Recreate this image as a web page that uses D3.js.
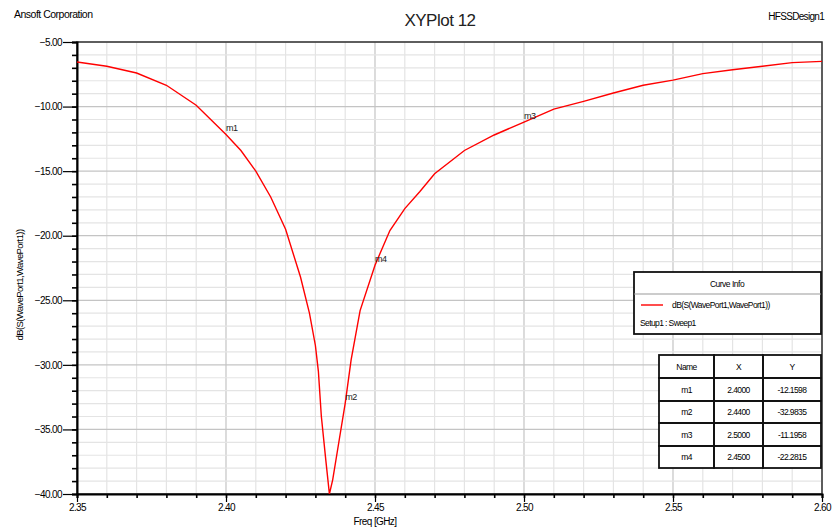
<!DOCTYPE html>
<html><head><meta charset="utf-8">
<script src="https://cdn.jsdelivr.net/npm/d3@7"></script>
<style>
body{margin:0;background:#fff;}
svg{display:block;font-family:"Liberation Sans",Arial,sans-serif;}
</style></head>
<body><svg id="c" width="833" height="531"></svg>
<script>
// ---- data ----
const freq = [2.35,2.36,2.37,2.38,2.39,2.40,2.405,2.41,2.415,2.42,2.425,2.428,2.430,2.431,2.432,2.4335,2.4347,2.4358,2.438,2.44,2.442,2.445,2.45,2.455,2.46,2.465,2.47,2.48,2.49,2.50,2.51,2.52,2.53,2.54,2.55,2.56,2.57,2.58,2.59,2.60];
const s11 = [-6.55,-6.88,-7.40,-8.35,-9.90,-12.16,-13.4,-15.0,-17.0,-19.5,-23.2,-26.0,-28.5,-30.5,-34.0,-37.4,-40.0,-38.9,-35.8,-32.98,-29.6,-25.8,-22.28,-19.6,-17.9,-16.6,-15.2,-13.4,-12.2,-11.2,-10.2,-9.6,-8.95,-8.35,-7.95,-7.45,-7.15,-6.88,-6.6,-6.5];
const markerNames = ["m1","m2","m3","m4"];
const markerX = [2.4000,2.4400,2.5000,2.4500];
const markerY = [-12.1598,-32.9835,-11.1958,-22.2815];
const xTicks = [2.35,2.40,2.45,2.50,2.55,2.60];
const yTicks = [-5,-10,-15,-20,-25,-30,-35,-40];
const title = "XYPlot 12";
const xLabel = "Freq [GHz]";
const yLabel = "dB(S(WavePort1,WavePort1))";
const seriesName = "dB(S(WavePort1,WavePort1))";
const setupName = "Setup1 : Sweep1";

const svg = d3.select("#c");
const L=77, R=822, T=42, B=494;
const x = d3.scaleLinear().domain([2.35,2.60]).range([L,R]);
const y = d3.scaleLinear().domain([-40,-5]).range([B,T]);

// grid
const g = svg.append("g");
const minorX = d3.range(0,26).map(i=>2.35+i*0.01);
const minorY = d3.range(0,36).map(i=>-40+i);
g.selectAll(".vx").data(minorX).join("line")
 .attr("x1",d=>x(d)).attr("x2",d=>x(d)).attr("y1",T).attr("y2",B)
 .attr("stroke",(d,i)=>i%5===0?"#c4c4c4":"#e4e4e4").attr("stroke-width",1.2);
g.selectAll(".hy").data(minorY).join("line")
 .attr("y1",d=>y(d)).attr("y2",d=>y(d)).attr("x1",L).attr("x2",R)
 .attr("stroke",(d,i)=>i%5===0?"#c4c4c4":"#e4e4e4").attr("stroke-width",1.2);

// frame
svg.append("rect").attr("x",L).attr("y",T).attr("width",R-L).attr("height",B-T)
 .attr("fill","none").attr("stroke","#333").attr("stroke-width",1.5);

// axes
const yAxis = d3.axisLeft(y).tickValues(minorY).tickSize(5).tickFormat("");
svg.append("g").attr("transform",`translate(${L},0)`).call(yAxis)
 .call(a=>{a.select(".domain").attr("stroke","#000").attr("stroke-width",2);a.selectAll("line").attr("stroke","#000").attr("stroke-width",1.6);});
const yMajor = d3.axisLeft(y).tickValues(yTicks).tickSize(14).tickPadding(1).tickFormat(d3.format(".2f"));
svg.append("g").attr("transform",`translate(${L},0)`).call(yMajor)
 .call(a=>{a.select(".domain").remove();a.selectAll("line").attr("stroke","#000").attr("stroke-width",1.2);
  a.selectAll("text").attr("font-size",10).attr("fill","#000").attr("letter-spacing","-0.6");});
const xAxis = d3.axisBottom(x).tickValues(minorX).tickSize(4).tickFormat("");
svg.append("g").attr("transform",`translate(0,${B})`).call(xAxis)
 .call(a=>{a.select(".domain").attr("stroke","#000").attr("stroke-width",2);a.selectAll("line").attr("stroke","#000").attr("stroke-width",1.6);});
const xMajor = d3.axisBottom(x).tickValues(xTicks).tickSize(8).tickPadding(2).tickFormat(d3.format(".2f"));
svg.append("g").attr("transform",`translate(0,${B})`).call(xMajor)
 .call(a=>{a.select(".domain").remove();a.selectAll("line").attr("stroke","#000").attr("stroke-width",1.2);
  a.selectAll("text").attr("font-size",10).attr("fill","#000").attr("letter-spacing","-0.6");});

// curve
svg.append("clipPath").attr("id","clip").append("rect").attr("x",L).attr("y",T).attr("width",R-L).attr("height",B-T);
const pts = freq.map((f,i)=>[f,s11[i]]);
svg.append("path").datum(pts).attr("clip-path","url(#clip)")
 .attr("d",d3.line().x(d=>x(d[0])).y(d=>y(d[1])))
 .attr("fill","none").attr("stroke","#ff0000").attr("stroke-width",1.4);

// marker labels
markerNames.forEach((n,i)=>{
  svg.append("text").attr("x",x(markerX[i])).attr("y",y(markerY[i])-3)
   .attr("font-size",9).attr("letter-spacing","-0.5").attr("fill","#222").text(n);
});

// titles
svg.append("text").attr("x",14).attr("y",18).attr("font-size",10.5).attr("letter-spacing","-0.5").text("Ansoft Corporation");
svg.append("text").attr("x",440).attr("y",26).attr("text-anchor","middle").attr("font-size",17).attr("fill","#222").attr("letter-spacing","-0.5").text(title);
svg.append("text").attr("x",824).attr("y",20).attr("text-anchor","end").attr("font-size",10).attr("letter-spacing","-0.7").text("HFSSDesign1");
svg.append("text").attr("x",375).attr("y",525).attr("text-anchor","middle").attr("font-size",10).attr("letter-spacing","-0.6").text(xLabel);
svg.append("text").attr("transform","translate(23,285) rotate(-90)").attr("text-anchor","middle").attr("font-size",9.5).attr("letter-spacing","-0.6").text(yLabel);

// legend box
const lg = svg.append("g");
lg.append("rect").attr("x",634).attr("y",272).attr("width",187).attr("height",62).attr("fill","#fff").attr("stroke","#111").attr("stroke-width",1.8);
lg.append("line").attr("x1",634).attr("x2",821).attr("y1",294).attr("y2",294).attr("stroke","#999").attr("stroke-width",1);
lg.append("text").attr("x",727).attr("y",287).attr("text-anchor","middle").attr("font-size",8.5).attr("letter-spacing","-0.5").text("Curve Info");
lg.append("line").attr("x1",641).attr("x2",663).attr("y1",305).attr("y2",305).attr("stroke","#ff0000").attr("stroke-width",1.4);
lg.append("text").attr("x",672).attr("y",308).attr("font-size",8.5).attr("letter-spacing","-0.6").text(seriesName);
lg.append("text").attr("x",640).attr("y",326).attr("font-size",8.5).attr("letter-spacing","-0.6").text(setupName);

// marker table
const tb = svg.append("g");
const cols = [659,714,763,821];
const rowY = [355,378,401,423,446,468];
const rows = [["Name","X","Y"]].concat(markerNames.map((n,i)=>[n,markerX[i].toFixed(4),markerY[i].toFixed(4)]));
tb.append("rect").attr("x",cols[0]).attr("y",rowY[0]).attr("width",cols[3]-cols[0]).attr("height",rowY[5]-rowY[0]).attr("fill","#fff");
rows.forEach((r,ri)=>{
  r.forEach((c,ci)=>{
    tb.append("rect").attr("x",cols[ci]).attr("y",rowY[ri]).attr("width",cols[ci+1]-cols[ci]).attr("height",rowY[ri+1]-rowY[ri])
     .attr("fill","none").attr("stroke","#111").attr("stroke-width",1.8);
    tb.append("text").attr("x",(cols[ci]+cols[ci+1])/2).attr("y",(rowY[ri]+rowY[ri+1])/2+3)
     .attr("text-anchor","middle").attr("font-size",8.5).attr("letter-spacing","-0.6").text(c);
  });
});
</script></body></html>
